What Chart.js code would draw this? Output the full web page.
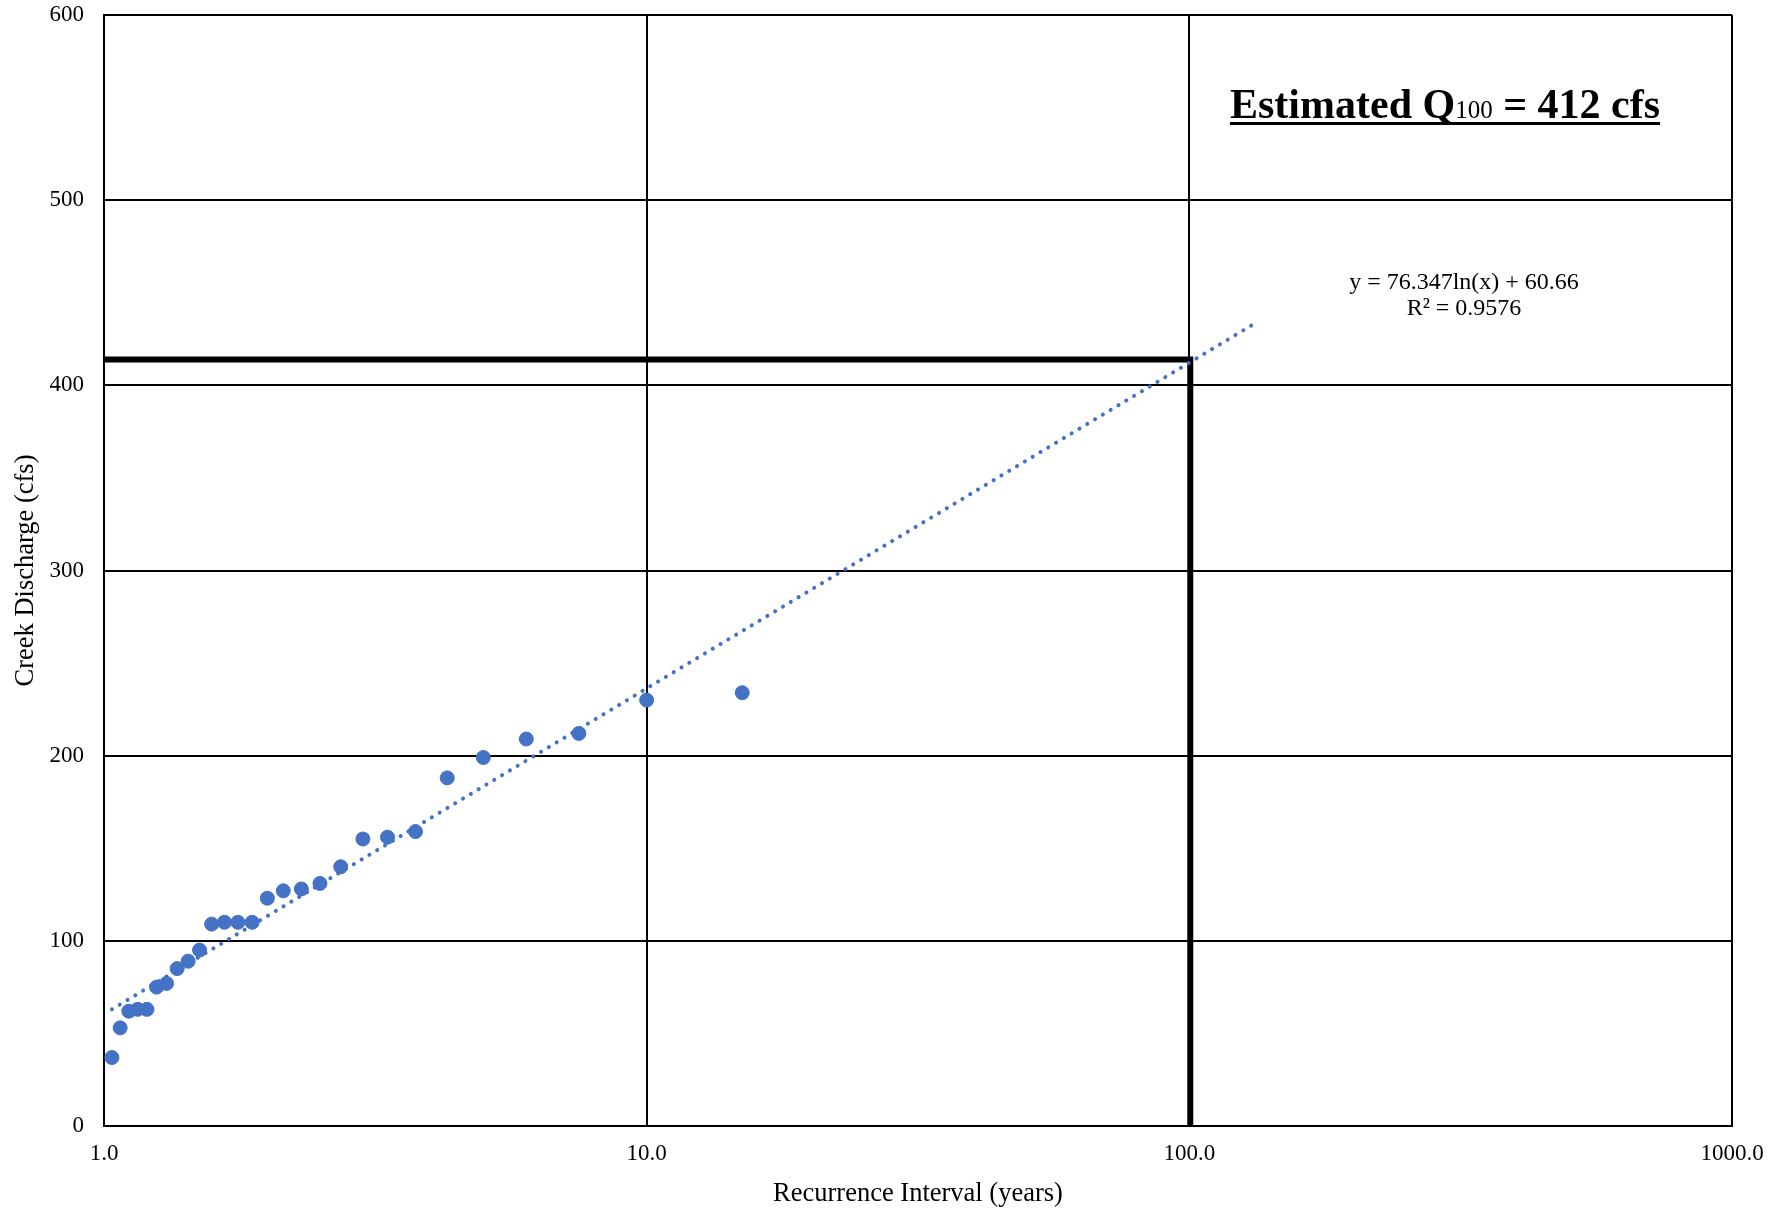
<!DOCTYPE html>
<html>
<head>
<meta charset="utf-8">
<script src="https://cdn.jsdelivr.net/npm/chart.js@4.4.1/dist/chart.umd.min.js"></script>
<style>
  html, body { margin: 0; padding: 0; background: #fff; }
  #wrap { width: 1787px; height: 1210px; }
</style>
</head>
<body>
<div id="wrap"><canvas id="chart"></canvas></div>
<script>
// annual peaks, plotted by recurrence interval (years)
const recurrence = [15, 10, 7.5, 6, 5, 4.29, 3.75, 3.33, 3.0, 2.73, 2.5, 2.31, 2.14, 2.0,
  1.875, 1.765, 1.667, 1.579, 1.5, 1.429, 1.364, 1.304, 1.25, 1.2, 1.154, 1.111, 1.071, 1.034];
const discharge = [234, 230, 212, 209, 199, 188, 159, 156, 155, 140, 131, 128, 127, 123,
  110, 110, 110, 109, 95, 89, 85, 77, 75, 63, 63, 62, 53, 37];

// log trendline ends (straight on a log x axis)
const trendX = [1.034, 133];
const trendY = [63, 434];

// Q100 read-off lines
const q100X = [1, 100.4, 100.4];
const q100Y = [414, 414, 0];

const xTicks = [1, 10, 100, 1000];
const yTicks = [0, 100, 200, 300, 400, 500, 600];

const SERIF = "'Liberation Serif', 'Times New Roman', serif";
const BLUE = "#4472C4";

const zip = (xs, ys) => xs.map((x, i) => ({ x, y: ys[i] }));

const notes = {
  id: "notes",
  afterDraw(chart) {
    const { ctx } = chart;
    ctx.save();
    ctx.fillStyle = "#000";
    ctx.textBaseline = "alphabetic";

    // headline
    let x = 1230;
    const base = 118;
    ctx.textAlign = "left";
    ctx.font = `bold 42px ${SERIF}`;
    ctx.fillText("Estimated Q", x, base);
    x += ctx.measureText("Estimated Q").width;
    ctx.font = `25px ${SERIF}`;
    ctx.fillText("100", x, base);
    x += ctx.measureText("100").width;
    ctx.font = `bold 42px ${SERIF}`;
    ctx.fillText(" = 412 cfs", x, base);
    x += ctx.measureText(" = 412 cfs").width;
    ctx.fillRect(1230, base + 4, x - 1230, 3);

    // trendline equation
    ctx.textAlign = "center";
    ctx.font = `24px ${SERIF}`;
    ctx.fillText("y = 76.347ln(x) + 60.66", 1464, 289);
    ctx.fillText("R² = 0.9576", 1464, 315);
    ctx.restore();
  }
};

new Chart(document.getElementById("chart"), {
  type: "scatter",
  data: {
    datasets: [
      {
        label: "Q100",
        type: "line",
        data: zip(q100X, q100Y),
        borderColor: "#000",
        borderWidth: 6,
        pointRadius: 0,
        fill: false,
        tension: 0,
        order: 3
      },
      {
        label: "Trend",
        type: "line",
        data: zip(trendX, trendY),
        borderColor: BLUE,
        borderWidth: 4,
        borderDash: [0.1, 9],
        borderCapStyle: "round",
        pointRadius: 0,
        fill: false,
        order: 2
      },
      {
        label: "Discharge",
        data: zip(recurrence, discharge),
        backgroundColor: BLUE,
        borderColor: BLUE,
        pointRadius: 7,
        order: 1
      }
    ]
  },
  options: {
    responsive: true,
    maintainAspectRatio: false,
    devicePixelRatio: 1,
    animation: false,
    layout: { padding: { top: 15, right: 55, left: 0, bottom: 0 } },
    plugins: { legend: { display: false }, tooltip: { enabled: false } },
    scales: {
      x: {
        type: "logarithmic",
        min: 1,
        max: 1000,
        afterBuildTicks: (scale) => { scale.ticks = xTicks.map((v) => ({ value: v })); },
        afterFit: (scale) => {
          scale.height = 84;
          scale.paddingLeft = 0;
          scale.paddingRight = 0;
        },
        grid: { color: "#000", lineWidth: 2, drawTicks: false },
        border: { color: "#000", width: 2 },
        ticks: {
          autoSkip: false,
          maxRotation: 0,
          padding: 14,
          color: "#000",
          font: { family: SERIF, size: 23 },
          callback: (v) => Number(v).toFixed(1)
        },
        title: {
          display: true,
          text: "Recurrence Interval (years)",
          color: "#000",
          font: { family: SERIF, size: 26.5 },
          padding: { top: 0, bottom: 0 }
        }
      },
      y: {
        min: 0,
        max: 600,
        afterBuildTicks: (scale) => { scale.ticks = yTicks.map((v) => ({ value: v })); },
        afterFit: (scale) => {
          scale.width = 104;
          scale.paddingTop = 0;
          scale.paddingBottom = 0;
        },
        grid: { color: "#000", lineWidth: 2, drawTicks: false },
        border: { color: "#000", width: 2 },
        ticks: {
          padding: 20,
          color: "#000",
          font: { family: SERIF, size: 23 }
        },
        title: {
          display: true,
          text: "Creek Discharge (cfs)",
          color: "#000",
          font: { family: SERIF, size: 26.5 },
          padding: { top: 10, bottom: 0 }
        }
      }
    }
  },
  plugins: [notes]
});
</script>
</body>
</html>
